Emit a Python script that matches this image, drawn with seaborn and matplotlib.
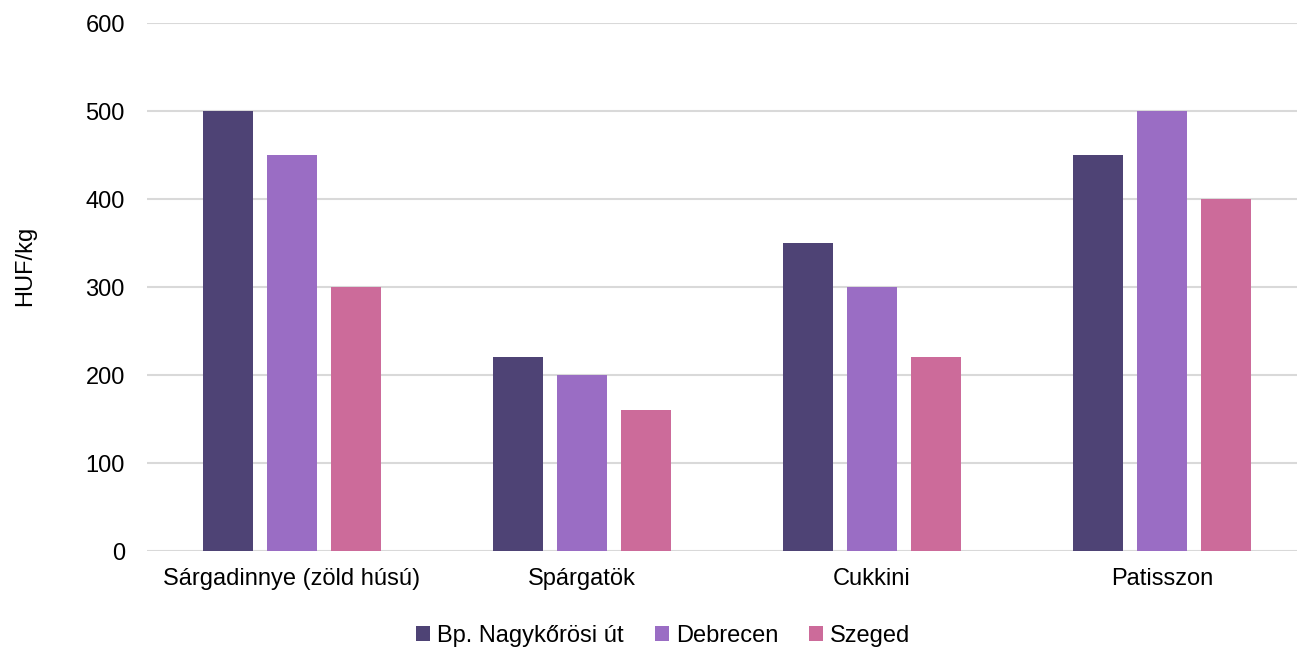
import pandas as pd
import matplotlib.pyplot as plt
import seaborn as sns

categories = ['Sárgadinnye (zöld húsú)', 'Spárgatök', 'Cukkini', 'Patisszon']
series = ['Bp. Nagykőrösi út', 'Debrecen', 'Szeged']
bp_values = [500, 220, 350, 450]
debrecen_values = [450, 200, 300, 500]
szeged_values = [300, 160, 220, 400]
colors = ['#4E4375', '#9A6DC4', '#CC6B9A']

rows = []
for name, vals in zip(series, [bp_values, debrecen_values, szeged_values]):
    for cat, v in zip(categories, vals):
        rows.append({'Kategória': cat, 'Piac': name, 'Ár': v})
data = pd.DataFrame(rows)

sns.set_style('white')
plt.rcParams['font.family'] = ['Liberation Sans', 'DejaVu Sans']
plt.rcParams['text.color'] = '#000000'

fig = plt.figure(figsize=(12.97, 6.48), dpi=100)
ax = fig.add_axes([147 / 1297, 1 - 551 / 648, 1160 / 1297, 528 / 648])

sns.barplot(data=data, x='Kategória', y='Ár', hue='Piac', order=categories,
            hue_order=series, palette=colors, width=0.662, gap=0.22,
            saturation=1, linewidth=0, ax=ax, legend=True)

ax.set_ylim(0, 600)
ax.set_xlim(-0.5, 3.5)
ax.set_yticks(range(0, 601, 100))
ax.yaxis.grid(True, color='#d9d9d9', linewidth=1.5)
ax.set_axisbelow(True)
for s in ax.spines.values():
    s.set_visible(False)
ax.tick_params(axis='both', length=0, labelsize=17, colors='#000000')
ax.tick_params(axis='y', pad=16)
ax.tick_params(axis='x', pad=12)
ax.set_xlabel('')
ax.set_ylabel('HUF/kg', fontsize=17, color='#000000')
ax.yaxis.set_label_coords(-0.0957, 0.54)

ax.legend(loc='center', bbox_to_anchor=(0.445, -0.161), ncol=3, frameon=False,
          fontsize=17, handlelength=0.6, handleheight=0.6, handletextpad=0.3,
          columnspacing=1.3, labelcolor='#000000')

plt.savefig('out.png', dpi=100)
plt.close()
